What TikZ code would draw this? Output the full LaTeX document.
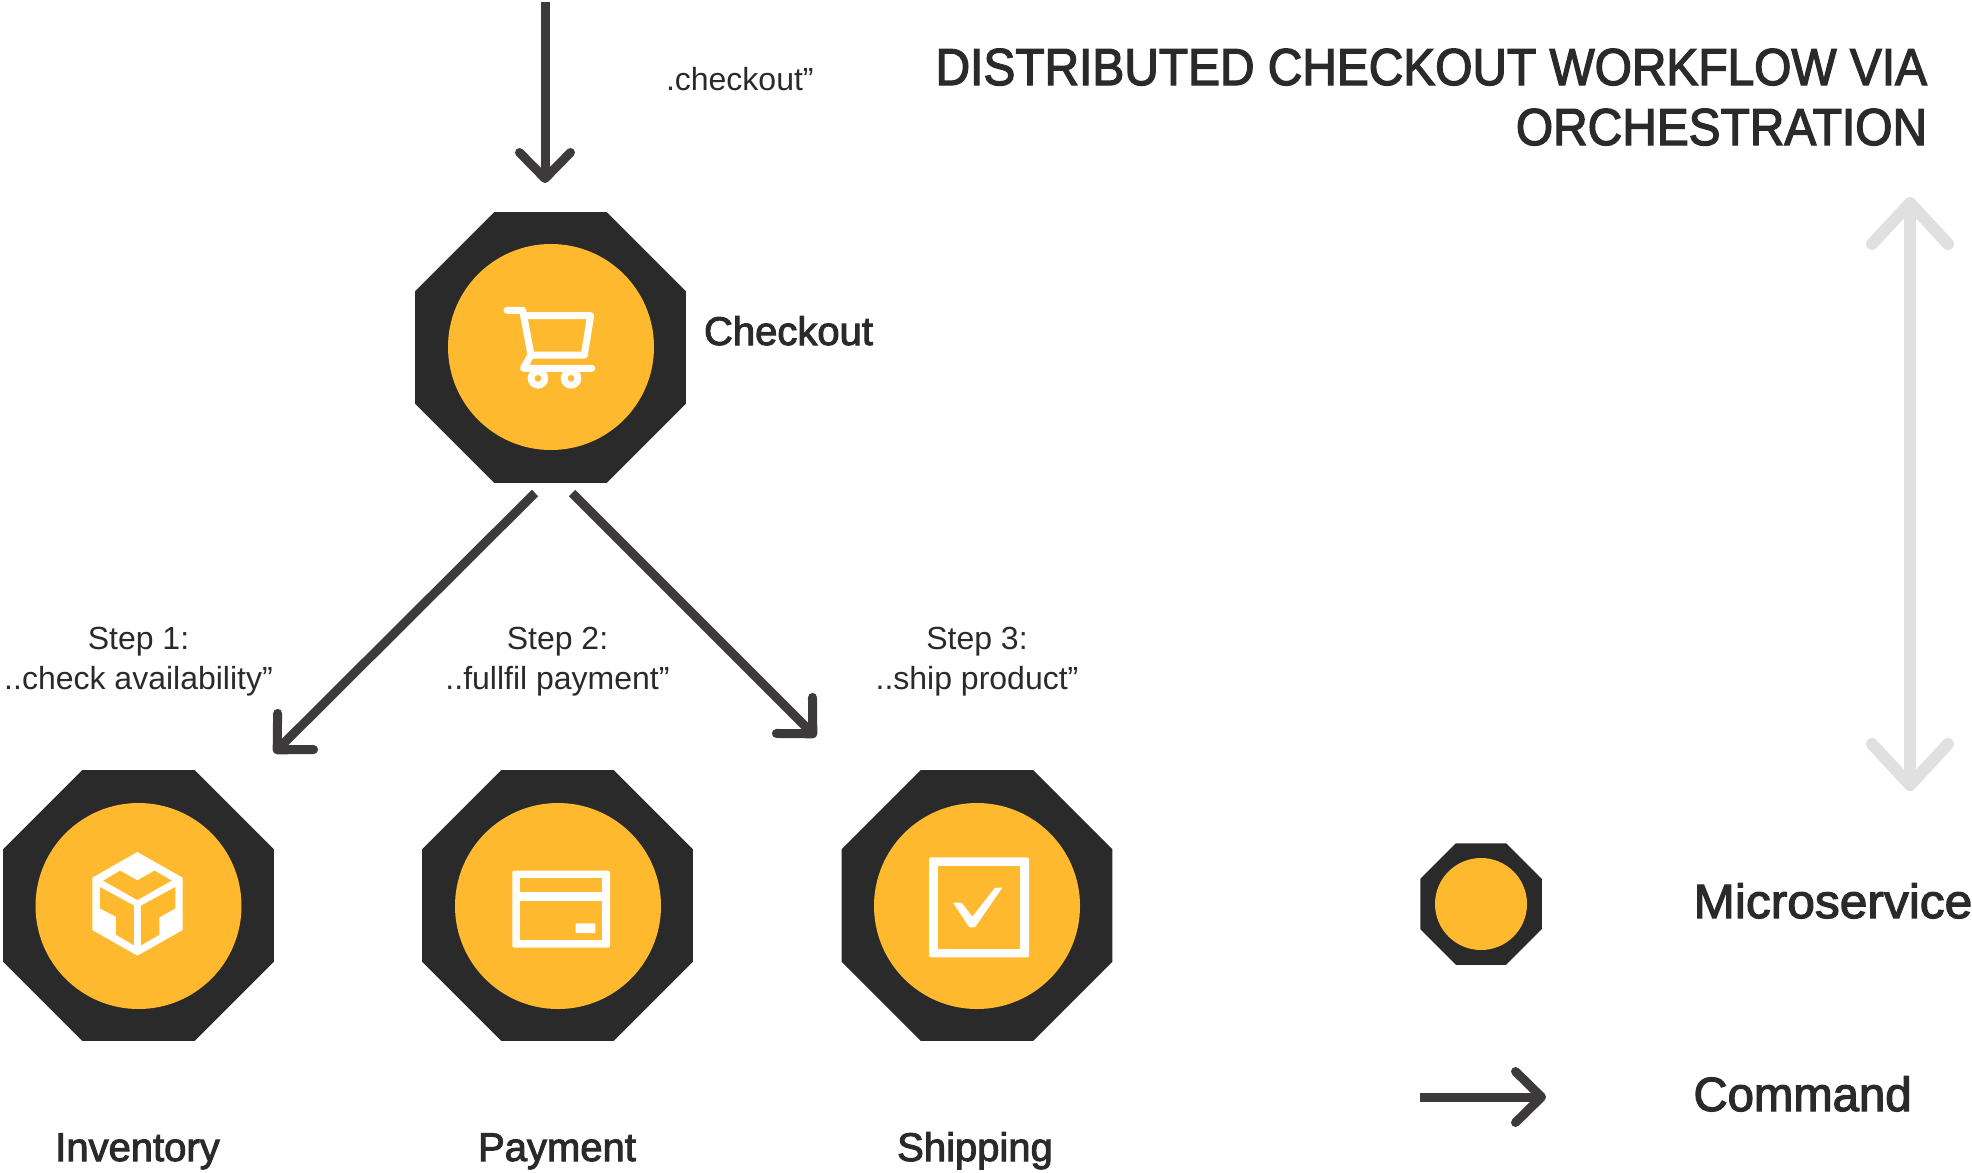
\documentclass[tikz,border=0pt]{standalone}
\usepackage{fontspec}
\usetikzlibrary{shapes.geometric,arrows.meta}
\setmainfont{Liberation Sans}
\newfontfamily\regf{Liberation Sans}
\newfontfamily\medf[FakeBold=2.5]{Liberation Sans}
\newfontfamily\legf[FakeBold=2.5,FakeStretch=1.035]{Liberation Sans}
\newfontfamily\comf[FakeBold=2.5,FakeStretch=0.985]{Liberation Sans}
\newfontfamily\titf[FakeBold=2.5,FakeStretch=0.92]{Liberation Sans}
\definecolor{darkhex}{HTML}{2A2A2A}
\definecolor{amber}{HTML}{FFB92F}
\definecolor{arrowgrey}{HTML}{3D3A3B}
\definecolor{lightarrow}{HTML}{E0E0E0}
\tikzset{
  octa/.style={regular polygon,regular polygon sides=8,fill=darkhex,draw=none,inner sep=0pt,outer sep=0pt,minimum size=293.3pt},
  disc/.style={circle,fill=amber,draw=none,inner sep=0pt,outer sep=0pt,minimum size=206pt},
  cmd/.style={draw=arrowgrey,line width=9pt,-{Straight Barb[length=26pt,width=51pt,round]}},
  scalearrow/.style={draw=lightarrow,line width=12pt,{Straight Barb[length=41pt,width=76pt,round]}-{Straight Barb[length=41pt,width=76pt,round]}},
  smalltext/.style={font=\regf\fontsize{32}{40}\selectfont,text=darkhex,inner sep=0pt,outer sep=0pt,align=center},
  nametext/.style={font=\medf\fontsize{40}{44}\selectfont,text=darkhex,inner sep=0pt,outer sep=0pt},
  legendtext/.style={text=darkhex,inner sep=0pt,outer sep=0pt},
  titletext/.style={font=\titf\fontsize{52}{60}\selectfont,text=darkhex,inner sep=0pt,outer sep=0pt,align=right},
  zoomat/.style={shift={#1},x=0.33333pt,y=-0.33333pt},
  iconline/.style={draw=white,line width=7pt,line cap=round,line join=round},
}
\begin{document}
\begin{tikzpicture}[x=1pt,y=-1pt]
\useasboundingbox (0,0) rectangle (1972,1172);

% services
\node[octa] (checkoutoct) at (550.5,347.5) {};
\node[disc] (checkoutdisc) at (551,347) {};
\node[octa] (inventoryoct) at (138.5,905.5) {};
\node[disc] (inventorydisc) at (138.5,906) {};
\node[octa] (paymentoct) at (557.5,905.5) {};
\node[disc] (paymentdisc) at (558,906) {};
\node[octa] (shippingoct) at (977,905.5) {};
\node[disc] (shippingdisc) at (977,906) {};

% cart icon
\begin{scope}[zoomat={(400,200)}]
  \draw[iconline] (321,331) -- (368,331) -- (393,465) -- (553,465) -- (572,347) -- (372,347);
  \draw[iconline] (393,465) -- (370,505) -- (575,505);
  \fill[white] (414,535) circle (31);
  \fill[white] (513,535) circle (31);
  \fill[amber] (414,535) circle (10);
  \fill[amber] (513,535) circle (10);
\end{scope}

% box icon
\begin{scope}[zoomat={(0,760)}]
  \fill[white] (412,276) -- (548,353) -- (548,510) -- (412,587) -- (277,510) -- (277,353) -- cycle;
  \fill[amber] (310,362) -- (360,332) -- (412,361) -- (464,332) -- (515,362) -- (412,420) -- cycle;
  \fill[amber] (300,381) -- (402,437) -- (402,556) -- (348,524) -- (348,470) -- (300,445) -- cycle;
  \fill[amber] (423,437) -- (526,381) -- (526,445) -- (478,472) -- (478,524) -- (423,556) -- cycle;
\end{scope}

% card icon
\begin{scope}[zoomat={(420,760)}]
  \fill[white,rounded corners=2pt] (277,332) rectangle (570,563);
  \fill[amber] (300,355) rectangle (547,395);
  \fill[amber] (300,424) rectangle (547,540);
  \fill[white,rounded corners=1pt] (467,490) rectangle (526,519);
\end{scope}

% check icon
\begin{scope}[zoomat={(840,760)}]
  \fill[white,rounded corners=2pt] (267,292) rectangle (567,592);
  \fill[amber] (293,319) rectangle (541,566);
  \fill[white,rounded corners=1pt] (339,428) -- (365,428) -- (397,470) -- (465,383) -- (487,383) -- (405,502) -- (388,502) -- cycle;
\end{scope}

% legend symbol
\node[octa,minimum size=131.5pt] (legendoct) at (1481,904) {};
\node[disc,minimum size=92pt] (legenddisc) at (1481,904) {};

% free ends of the connectors
\coordinate (entrystart) at (545,2);
\coordinate (entryend) at (545,183);
\coordinate (stepAstart) at (535,493);
\coordinate (stepAend) at (274,753);
\coordinate (stepBstart) at (572,493);
\coordinate (stepBend) at (816,737);
\coordinate (legendstart) at (1420,1097);
\coordinate (legendend) at (1546,1097);
\coordinate (scaletop) at (1910,197);
\coordinate (scalebottom) at (1910,791);

\draw[cmd] (entrystart) -- (entryend);
\draw[cmd] (stepAstart) -- (stepAend);
\draw[cmd] (stepBstart) -- (stepBend);
\draw[cmd] (legendstart) -- (legendend);
\draw[scalearrow] (scaletop) -- (scalebottom);

% labels
\node[smalltext,anchor=base west] (entrylabel) at (666,90) {.checkout”};
\node[smalltext,anchor=base] (stepAlabel) at (138.5,689) {Step 1:\\..check availability”};
\node[smalltext,anchor=base] (stepBlabel) at (557.5,689) {Step 2:\\..fullfil payment”};
\node[smalltext,anchor=base] (stepClabel) at (977,689) {Step 3:\\..ship product”};
\node[nametext,anchor=base west] (checkoutname) at (704,345) {Checkout};
\node[nametext,anchor=base] (inventoryname) at (137.5,1161) {Inventory};
\node[nametext,anchor=base] (paymentname) at (557,1161) {Payment};
\node[nametext,anchor=base] (shippingname) at (975,1161) {Shipping};
\node[legendtext,font=\legf\fontsize{48}{52}\selectfont,anchor=base west] (microlabel) at (1693.5,918) {Microservice};
\node[legendtext,font=\comf\fontsize{48}{52}\selectfont,anchor=base west] (commandlabel) at (1693.5,1111) {Command};
\node[titletext,anchor=base east] (title) at (1927,145) {DISTRIBUTED CHECKOUT WORKFLOW VIA\\ORCHESTRATION};
\end{tikzpicture}
\end{document}
